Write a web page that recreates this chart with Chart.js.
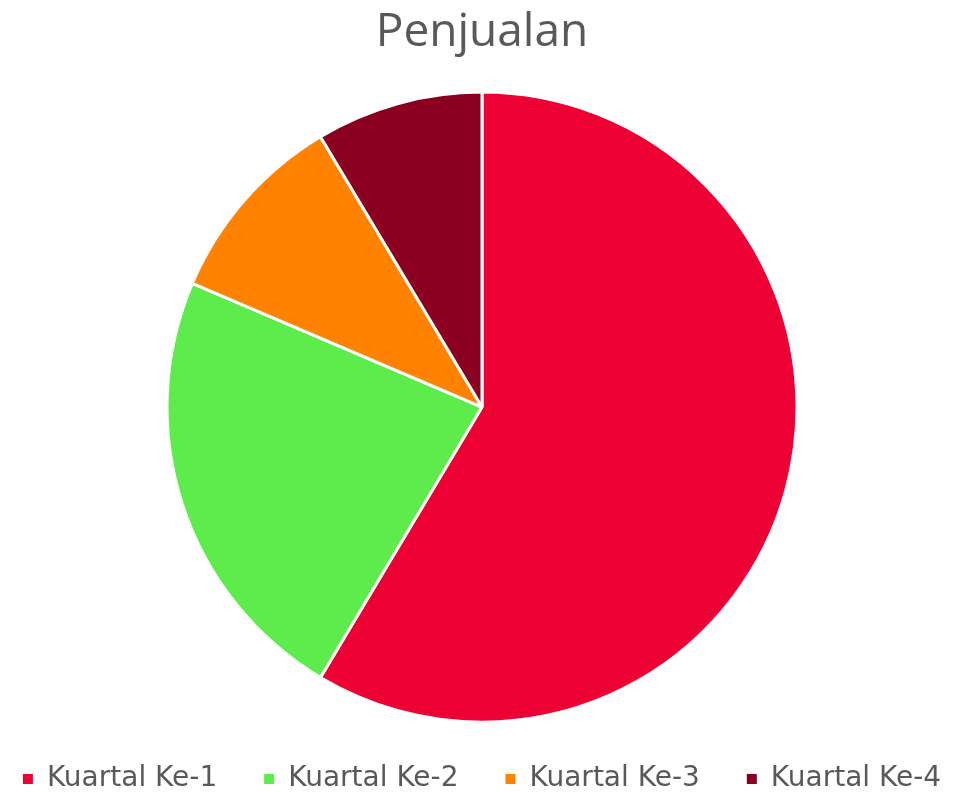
<!DOCTYPE html>
<html>
<head>
<meta charset="utf-8">
<title>Penjualan</title>
<script src="https://cdn.jsdelivr.net/npm/chart.js@4/dist/chart.umd.min.js"></script>
<style>
  html, body { margin: 0; padding: 0; background: #ffffff; }
  #wrap { width: 976px; height: 792px; }
</style>
</head>
<body>
<div id="wrap"><canvas id="salesChart" width="976" height="792"></canvas></div>
<script>
let kategori = ['Kuartal Ke-1', 'Kuartal Ke-2', 'Kuartal Ke-3', 'Kuartal Ke-4'];
let penjualan = [8.2, 3.2, 1.4, 1.2];
let warna = ['#ED0034', '#5EEB4C', '#FF8200', '#8B0020'];

// keep the legend on one row and give it a fixed height so the pie stays put
const legendHeight = {
    id: 'legendHeight',
    beforeInit(chart) {
        const origFit = chart.legend.fit;
        chart.legend.fit = function () {
            const mw = this.maxWidth;
            this.maxWidth = 1400;
            origFit.bind(chart.legend)();
            this.maxWidth = mw;
            this.width = mw;
            this.height = 74;
        };
    },
    beforeDraw(chart) {
        // widen the legend box a little so the last item doesn't wrap
        chart.legend.left = -30;
        chart.legend.right = 994;
    }
};

const ctx = document.getElementById('salesChart').getContext('2d');
new Chart(ctx, {
    type: 'pie',
    data: {
        labels: kategori,
        datasets: [{
            data: penjualan,
            backgroundColor: warna,
            borderColor: '#ffffff',
            borderWidth: 3,
            radius: 315
        }]
    },
    options: {
        responsive: false,
        animation: false,
        layout: { padding: { left: 0, right: 12, top: 0, bottom: 0 } },
        plugins: {
            title: {
                display: true,
                text: 'Penjualan',
                color: '#595959',
                font: { family: '"Open Sans", sans-serif', size: 46, weight: 'normal' },
                padding: { top: 5, bottom: 36 }
            },
            legend: {
                position: 'bottom',
                labels: {
                    color: '#595959',
                    font: { family: '"DejaVu Sans", sans-serif', size: 28 },
                    boxWidth: 10,
                    boxHeight: 10,
                    padding: 47,
                    // plain squares, no white border eating into them
                    generateLabels(chart) {
                        const items = Chart.overrides.pie.plugins.legend.labels.generateLabels(chart);
                        return items.map(it => ({ ...it, lineWidth: 0 }));
                    }
                }
            },
            tooltip: { enabled: false }
        }
    },
    plugins: [legendHeight]
});
</script>
</body>
</html>
